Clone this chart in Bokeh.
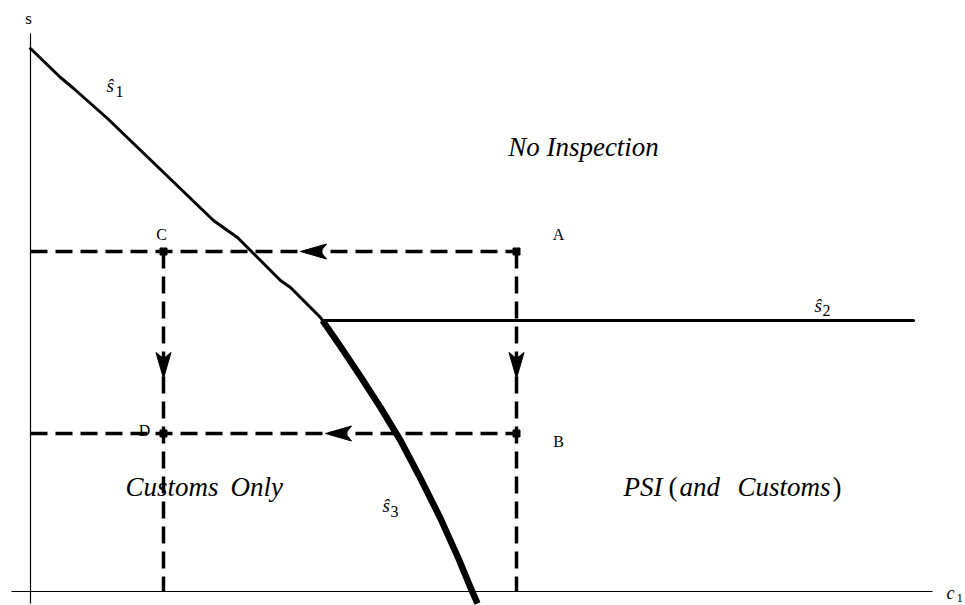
from bokeh.plotting import figure
from bokeh.models import Range1d
from bokeh.core.properties import value
from bokeh.embed import file_html
from bokeh.resources import INLINE

# ---- chart values (c1, s units) ----
s1_c = [0.00, 0.30, 0.42, 0.77, 1.83, 1.97, 2.07, 2.20, 2.50, 2.60, 2.90, 2.92]
s1_s = [5.43, 5.14, 5.04, 4.73, 3.71, 3.61, 3.54, 3.41, 3.11, 3.04, 2.74, 2.71]
s2_c = [2.92, 8.83]
s2_s = [2.71, 2.71]
s3_c = [2.92, 3.10, 3.30, 3.50, 3.70, 3.90, 4.10, 4.28, 4.40, 4.47]
s3_s = [2.71, 2.45, 2.15, 1.84, 1.51, 1.13, 0.73, 0.33, 0.04, -0.12]
pt_names = ["A", "B", "C", "D"]
pt_c = [4.86, 4.86, 1.33, 1.33]
pt_s = [3.40, 1.58, 3.40, 1.58]
arrow_left_tip_c = [2.70, 2.95]
arrow_left_tip_s = [3.40, 1.58]
arrow_down_tip_c = [1.33, 4.86]
arrow_down_tip_s = [2.13, 2.13]

FONT = "Liberation Serif"

def px(x):
    return (x - 30) / 100.0

def py(y):
    return (591 - y) / 100.0

p = figure(width=965, height=605, output_backend="svg", toolbar_location=None,
           x_range=Range1d(-0.30, 9.35), y_range=Range1d(-0.14, 5.91),
           x_axis_type=None, y_axis_type=None, min_border=0,
           outline_line_color=None, background_fill_color="white",
           border_fill_color="white")
p.grid.visible = False

# axes
p.line([px(11), px(932)], [0, 0], line_color="black", line_width=1.2)
p.line([0, 0], [py(33), py(603)], line_color="black", line_width=1.2)

# dashed lines
dash = "17 8"
p.line([0, pt_c[0]], [pt_s[0], pt_s[0]], line_color="black", line_width=3.5, line_dash=dash)
p.line([0, pt_c[1]], [pt_s[1], pt_s[1]], line_color="black", line_width=3.5, line_dash=dash)
p.line([pt_c[2], pt_c[2]], [pt_s[2], 0], line_color="black", line_width=3.5, line_dash=dash)
p.line([pt_c[0], pt_c[0]], [pt_s[0], 0], line_color="black", line_width=3.5, line_dash=dash)

# curves
p.line(s1_c, s1_s, line_color="black", line_width=3, line_join="round", line_cap="round")
p.line(s2_c, s2_s, line_color="black", line_width=3.2, line_cap="round")
p.line(s3_c, s3_s, line_color="black", line_width=6.5, line_join="round")

# arrow heads (stealth shape)
L, W, N = 0.26, 0.15, 0.20
xs, ys = [], []
for tx, ty in zip(arrow_left_tip_c, arrow_left_tip_s):
    xs.append([tx, tx + L, tx + N, tx + L])
    ys.append([ty, ty + W / 2, ty, ty - W / 2])
for tx, ty in zip(arrow_down_tip_c, arrow_down_tip_s):
    xs.append([tx, tx + W / 2, tx, tx - W / 2])
    ys.append([ty, ty + L, ty + N, ty + L])
p.patches(xs, ys, fill_color="black", line_color="black", line_width=1)

# corner squares
p.scatter(pt_c, pt_s, marker="square", size=7, fill_color="black", line_color="black")

def txt(x, y, t, size, style="normal", align="left"):
    p.text(x=[px(x)], y=[py(y)], text=[t], text_font=value(FONT),
           text_font_size=f"{size}px", text_font_style=style,
           text_align=align, text_baseline="alphabetic", text_color="black")

# point labels
txt(161, 234, "C", 16, align="center")
txt(558, 234, "A", 16, align="center")
txt(144, 430, "D", 16, align="center")
txt(558, 441, "B", 16, align="center")

# axis labels
txt(28, 18, "s", 17, align="center")
txt(946, 592, "c", 18, "italic")
txt(956, 597, "1", 13)

# curve labels
txt(106, 85, "ŝ", 19, "italic")
txt(115, 91, "1", 16)
txt(814, 305, "ŝ", 19, "italic")
txt(822, 310, "2", 16)
txt(382, 505, "ŝ", 19, "italic")
txt(390, 511, "3", 16)

# region labels
txt(583, 146, "No Inspection", 27, "italic", "center")
txt(125, 486, "Customs", 27, "italic")
txt(230, 486, "Only", 27, "italic")
txt(623, 486, "PSI", 27, "italic")
txt(668, 486, "(", 27)
txt(679, 486, "and", 27, "italic")
txt(737, 486, "Customs", 27, "italic")
txt(832, 486, ")", 27)

open("out.html", "w").write(file_html(p, INLINE))
